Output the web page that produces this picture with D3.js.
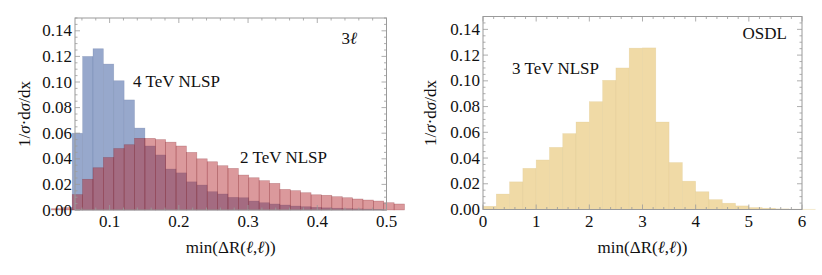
<!DOCTYPE html>
<html><head><meta charset="utf-8">
<script src="https://cdn.jsdelivr.net/npm/d3@7"></script>
</head>
<body style="margin:0;background:#fff"><svg id="c" width="822" height="275"></svg>
<script>
// ---- data ----
// Left panel (3l): bins of width 0.015
const binWidthL = 0.015;
const blueStart = 0.046;   // 4 TeV NLSP first bin edge
const blue4TeV = [0.060,0.120,0.126,0.114,0.101,0.086,0.064,0.050,0.043,0.032,
                  0.029,0.022,0.0195,0.0143,0.0125,0.0099,0.0096,0.0070,0.0057,0.0047,
                  0.0039,0.0031,0.0026,0.0021,0.0017,0.0014,0.0011,0.0009,0.0007,0.0005];
const pinkStart = 0.016;   // 2 TeV NLSP first bin edge
const pink2TeV = [0.0010,0.0018,0.012,0.024,0.033,0.041,0.048,0.051,0.056,0.056,
                  0.055,0.053,0.050,0.045,0.040,0.0377,0.0346,0.0325,0.0273,0.0252,
                  0.0229,0.0208,0.0161,0.0151,0.0135,0.0119,0.0115,0.0104,0.0096,0.0086,
                  0.0078,0.0070,0.0057,0.0047];
// Right panel (OSDL): bins of width 0.25 from 0
const binWidthR = 0.25;
const yellow3TeV = [0.0025,0.012,0.0215,0.032,0.0385,0.0483,0.059,0.068,0.0838,0.1004,
                    0.110,0.1254,0.1256,0.068,0.0365,0.022,0.0138,0.0077,0.0049,0.0028,
                    0.0015,0.0010,0.0005,0.0003,0.0002];
const yTicks = [0,0.02,0.04,0.06,0.08,0.10,0.12,0.14];
const xTicksL = [0.1,0.2,0.3,0.4,0.5];
const xTicksR = [0,1,2,3,4,5,6];

const svg = d3.select("#c");
const FS = 17;
const FF = "Liberation Serif";
const frameCol = "#9a9a9a";

function txt(sel){ return sel.attr("font-family",FF).attr("font-size",FS).attr("fill","#111"); }

function panel(o){
  const x = d3.scaleLinear().domain(o.xd).range(o.xr);
  const y = d3.scaleLinear().domain([0,0.15]).range(o.yr);
  const g = svg.append("g");
  o.series.forEach(s=>{
    g.append("g").selectAll("rect").data(s.vals).join("rect")
      .attr("x",(d,i)=>x(s.start+i*s.w))
      .attr("width",(d,i)=>x(s.start+(i+1)*s.w)-x(s.start+i*s.w))
      .attr("y",d=>y(d))
      .attr("height",d=>y(0)-y(d))
      .attr("fill",s.fill).attr("fill-opacity",s.op)
      .attr("stroke",s.stroke).attr("stroke-opacity",0.35).attr("stroke-width",0.6);
  });
  const [x0,x1]=o.xr, [y0,y1]=o.yr;
  g.append("rect").attr("x",x0).attr("y",y1).attr("width",x1-x0).attr("height",y0-y1)
    .attr("fill","none").attr("stroke",frameCol).attr("stroke-width",1);
  const yMinor = d3.range(0,0.1501,0.005).filter(v=>!yTicks.some(t=>Math.abs(t-v)<1e-9));
  const tick = (x1_,y1_,x2_,y2_)=>g.append("line").attr("x1",x1_).attr("y1",y1_).attr("x2",x2_).attr("y2",y2_)
      .attr("stroke",frameCol).attr("stroke-width",0.8);
  yTicks.forEach(v=>{tick(x0,y(v),x0+5,y(v)); tick(x1,y(v),x1-5,y(v));});
  yMinor.forEach(v=>{tick(x0,y(v),x0+2.5,y(v)); tick(x1,y(v),x1-2.5,y(v));});
  o.xTicks.forEach(v=>{tick(x(v),y0,x(v),y0-5); tick(x(v),y1,x(v),y1+5);});
  o.xMinor.forEach(v=>{tick(x(v),y0,x(v),y0-2.5); tick(x(v),y1,x(v),y1+2.5);});
  txt(g.append("g").selectAll("text").data(yTicks).join("text"))
    .attr("x",x0-3).attr("y",d=>y(d)+FS*0.33).attr("text-anchor","end")
    .text(d=>d3.format(".2f")(d));
  txt(g.append("g").selectAll("text").data(o.xTicks).join("text"))
    .attr("x",d=>x(d)).attr("y",y0+17).attr("text-anchor","middle")
    .text(o.xfmt);
  const xt = txt(g.append("text")).attr("x",(x0+x1)/2).attr("y",253).attr("text-anchor","middle");
  xt.append("tspan").text("min(ΔR(");
  xt.append("tspan").attr("font-style","italic").text("ℓ");
  xt.append("tspan").text(",");
  xt.append("tspan").attr("font-style","italic").text("ℓ");
  xt.append("tspan").text("))");
  const yt = txt(g.append("text")).attr("transform",`translate(${o.ytx},${(y0+y1)/2}) rotate(-90)`)
    .attr("text-anchor","middle");
  yt.append("tspan").text("1/");
  yt.append("tspan").attr("font-style","italic").text("σ");
  yt.append("tspan").text("·d");
  yt.append("tspan").attr("font-style","italic").text("σ");
  yt.append("tspan").text("/dx");
  o.labels.forEach(l=>{
    const t=txt(g.append("text")).attr("x",l.x).attr("y",l.y).attr("text-anchor",l.a||"start");
    l.parts.forEach(p=>t.append("tspan").attr("font-style",p.i?"italic":null).text(p.t));
  });
}

panel({
  xd:[0.05,0.5], xr:[75,386.5], yr:[210,18],
  xTicks:xTicksL, xMinor:[0.06,0.08,0.12,0.14,0.16,0.18,0.22,0.24,0.26,0.28,0.32,0.34,0.36,0.38,0.42,0.44,0.46,0.48],
  xfmt:d=>d3.format(".1f")(d), ytx:30,
  series:[
    {vals:blue4TeV,start:blueStart,w:binWidthL,fill:"#97a8cc",op:1,stroke:"#5c6f9a"},
    {vals:pink2TeV,start:pinkStart,w:binWidthL,fill:"rgb(178,38,44)",op:0.47,stroke:"#7a1a22"}
  ],
  labels:[
    {x:133,y:87,parts:[{t:"4 TeV NLSP"}]},
    {x:240,y:163,parts:[{t:"2 TeV NLSP"}]},
    {x:357,y:43.5,a:"end",parts:[{t:"3"},{t:"ℓ",i:true}]}
  ]
});

panel({
  xd:[0,6], xr:[483,802], yr:[209.5,16.5],
  xTicks:xTicksR, xMinor:d3.range(0.2,6,0.2).filter(v=>Math.abs(v-Math.round(v))>1e-6),
  xfmt:d=>d3.format("d")(d), ytx:436,
  series:[
    {vals:yellow3TeV,start:0,w:binWidthR,fill:"#f0daa6",op:1,stroke:"#d8bf84"}
  ],
  labels:[
    {x:512,y:74,parts:[{t:"3 TeV NLSP"}]},
    {x:787,y:39,a:"end",parts:[{t:"OSDL"}]}
  ]
});
</script></body></html>
